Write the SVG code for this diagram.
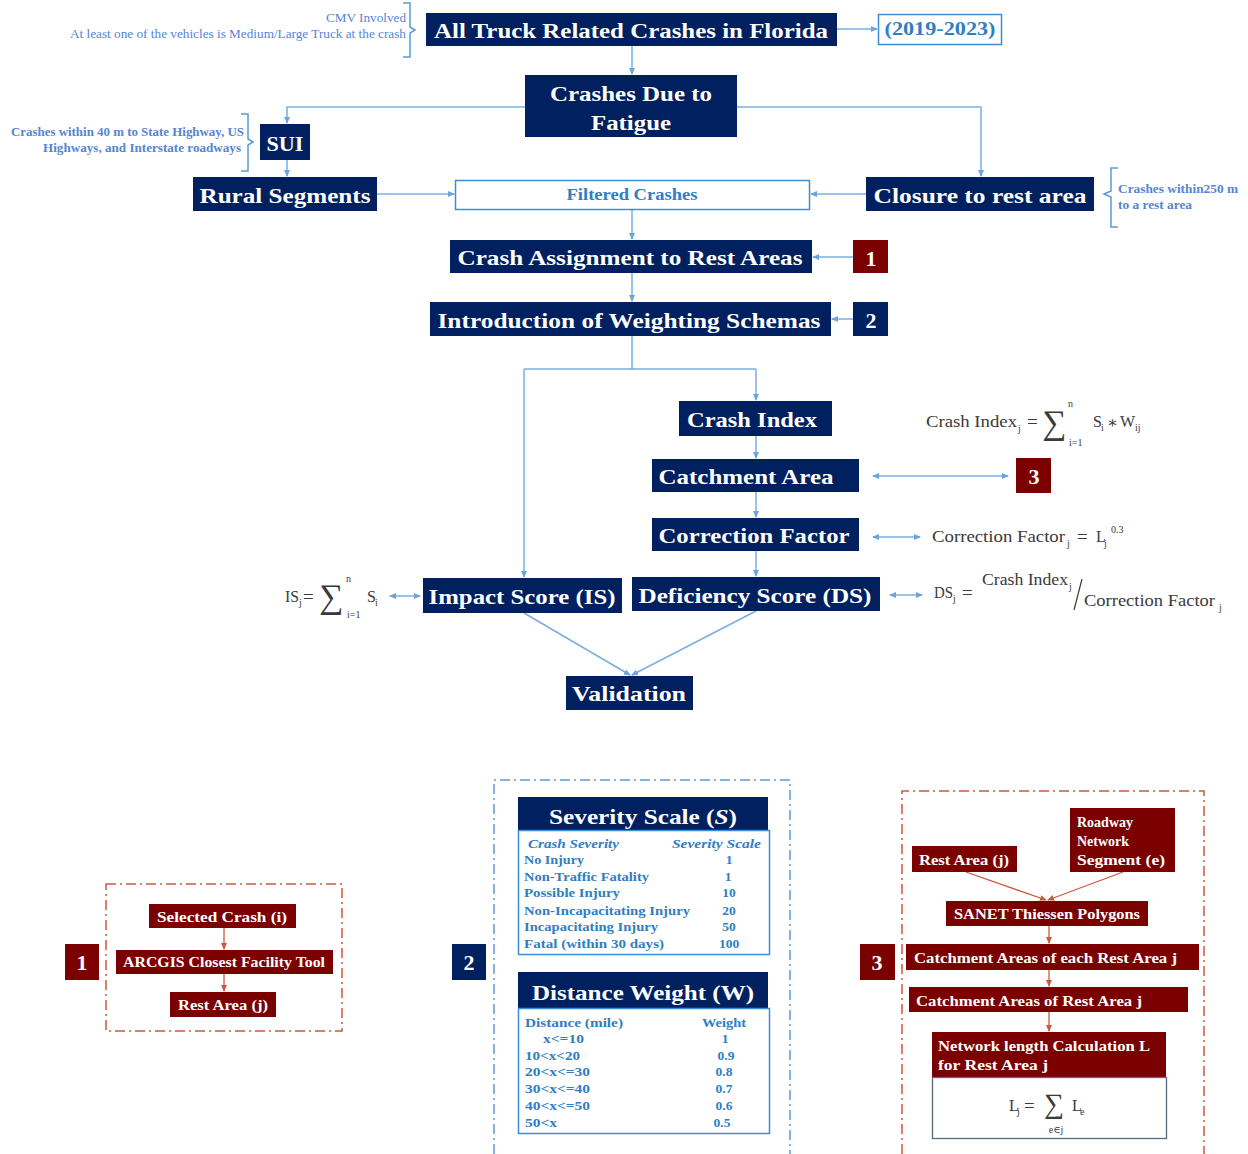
<svg xmlns="http://www.w3.org/2000/svg" width="1248" height="1154" viewBox="0 0 1248 1154">
<style>
.nv{fill:#002060}
.rd{fill:#7b0000}
.t{font-family:"Liberation Serif","DejaVu Serif",serif;font-weight:bold;fill:#fff}
.tc{text-anchor:middle}
.bl{font-family:"Liberation Serif","DejaVu Serif",serif;font-weight:bold;fill:#2f7ec3}
.an{font-family:"Liberation Serif","DejaVu Serif",serif;fill:#5585d4}
.fm{font-family:"Liberation Serif","DejaVu Serif",serif;fill:#3a3a3a;font-size:16px}
.fs{font-size:10px}
.c{fill:none;stroke:#7aaee0;stroke-width:1.5}
.cr{fill:none;stroke:#d0573e;stroke-width:1.3}
.br{fill:none;stroke:#5b9bd5;stroke-width:1.5}
.dr{fill:none;stroke:#d0573e;stroke-width:1.5;stroke-dasharray:10 4 2 4}
.db{fill:none;stroke:#5b9bd5;stroke-width:1.5;stroke-dasharray:10 4 2 4}
</style>
<defs>
<marker id="a" markerUnits="userSpaceOnUse" markerWidth="7" markerHeight="7" refX="6" refY="3.5" orient="auto-start-reverse"><path d="M0,0.5 L7,3.5 L0,6.5 z" fill="#6fa3dc"/></marker>
<marker id="ar" markerUnits="userSpaceOnUse" markerWidth="7" markerHeight="7" refX="6" refY="3.5" orient="auto"><path d="M0,0.5 L7,3.5 L0,6.5 z" fill="#d0573e"/></marker>
</defs>

<g id="connectors">
<path class="c" d="M837,29 H877" marker-end="url(#a)"/>
<path class="c" d="M632,46 V74" marker-end="url(#a)"/>
<path class="c" d="M525,107 H287 V123" marker-end="url(#a)"/>
<path class="c" d="M737,107 H981 V176" marker-end="url(#a)"/>
<path class="c" d="M287,160 V176" marker-end="url(#a)"/>
<path class="c" d="M377,194 H454" marker-end="url(#a)"/>
<path class="c" d="M866,194 H811" marker-end="url(#a)"/>
<path class="c" d="M632,209 V239" marker-end="url(#a)"/>
<path class="c" d="M853,257 H813" marker-end="url(#a)"/>
<path class="c" d="M632,273 V301" marker-end="url(#a)"/>
<path class="c" d="M853,319 H832" marker-end="url(#a)"/>
<path class="c" d="M632,336 V369 M524,369 H756"/>
<path class="c" d="M756,369 V400" marker-end="url(#a)"/>
<path class="c" d="M524,369 V577" marker-end="url(#a)"/>
<path class="c" d="M756,436 V458" marker-end="url(#a)"/>
<path class="c" d="M873,476 H1008" marker-start="url(#a)" marker-end="url(#a)"/>
<path class="c" d="M756,492 V517" marker-end="url(#a)"/>
<path class="c" d="M873,537 H920" marker-start="url(#a)" marker-end="url(#a)"/>
<path class="c" d="M756,551 V576" marker-end="url(#a)"/>
<path class="c" d="M890,595 H922" marker-start="url(#a)" marker-end="url(#a)"/>
<path class="c" d="M390,596 H420" marker-start="url(#a)" marker-end="url(#a)"/>
<path class="c" d="M524,613 L630,675" marker-end="url(#a)"/>
<path class="c" d="M756,611 L632,675" marker-end="url(#a)"/>
<path class="cr" d="M224,928 V949" marker-end="url(#ar)"/>
<path class="cr" d="M224,974 V991" marker-end="url(#ar)"/>
<path class="cr" d="M966,872 L1046,900" marker-end="url(#ar)"/>
<path class="cr" d="M1123,872 L1048,900" marker-end="url(#ar)"/>
<path class="cr" d="M1049,926 V943" marker-end="url(#ar)"/>
<path class="cr" d="M1049,970 V986" marker-end="url(#ar)"/>
<path class="cr" d="M1049,1012 V1031" marker-end="url(#ar)"/>
</g>

<g id="ann-cmv">
<path class="br" d="M403,3 H410 V27 L415,30 L410,33 V57 H403"/>
<text class="an" x="406" y="22" font-size="12" text-anchor="end" textLength="80" lengthAdjust="spacingAndGlyphs">CMV Involved</text>
<text class="an" x="406" y="38" font-size="12" text-anchor="end" textLength="336" lengthAdjust="spacingAndGlyphs">At least one of the vehicles is Medium/Large Truck at the crash</text>
</g>
<g id="ann-sui">
<path class="br" d="M241,114 H248 V139 L253,142 L248,145 V171 H241"/>
<text class="an" x="244" y="136" font-size="11.5" font-weight="bold" text-anchor="end" textLength="233" lengthAdjust="spacingAndGlyphs">Crashes within 40 m to State Highway, US</text>
<text class="an" x="241" y="152" font-size="11.5" font-weight="bold" text-anchor="end" textLength="198" lengthAdjust="spacingAndGlyphs">Highways, and Interstate roadways</text>
</g>
<g id="ann-rest">
<path class="br" d="M1118,168 H1111 V191 L1104,194 L1111,197 V227 H1118"/>
<text class="an" x="1118" y="193" font-size="11.5" font-weight="bold" textLength="120" lengthAdjust="spacingAndGlyphs">Crashes within250 m</text>
<text class="an" x="1118" y="209" font-size="11.5" font-weight="bold" textLength="74" lengthAdjust="spacingAndGlyphs">to a rest area</text>
</g>

<g id="n-all"><rect class="nv" x="426" y="13" width="411" height="33"/><text class="t tc" x="631" y="38" font-size="22" textLength="394" lengthAdjust="spacingAndGlyphs">All Truck Related Crashes in Florida</text></g>
<g id="n-years"><rect x="878.5" y="14.5" width="123" height="30" fill="#fff" stroke="#3a8dd6" stroke-width="1.5"/><text class="bl tc" x="940" y="35" font-size="18" fill="#2e7fcf" textLength="111" lengthAdjust="spacingAndGlyphs">(2019-2023)</text></g>
<g id="n-fatigue"><rect class="nv" x="525" y="75" width="212" height="62"/><text class="t tc" x="631" y="101" font-size="22" textLength="162" lengthAdjust="spacingAndGlyphs">Crashes Due to</text><text class="t tc" x="631" y="130" font-size="22" textLength="80" lengthAdjust="spacingAndGlyphs">Fatigue</text></g>
<g id="n-sui"><rect class="nv" x="260" y="124" width="50" height="36"/><text class="t tc" x="285" y="151" font-size="22" textLength="37" lengthAdjust="spacingAndGlyphs">SUI</text></g>
<g id="n-rural"><rect class="nv" x="193" y="177" width="184" height="34"/><text class="t tc" x="285" y="203" font-size="22" textLength="171" lengthAdjust="spacingAndGlyphs">Rural Segments</text></g>
<g id="n-filtered"><rect x="455.5" y="180.5" width="354" height="29" fill="#fff" stroke="#3a8dd6" stroke-width="1.5"/><text class="bl tc" x="632" y="200" font-size="16" fill="#2e7fcf" textLength="131" lengthAdjust="spacingAndGlyphs">Filtered Crashes</text></g>
<g id="n-closure"><rect class="nv" x="866" y="177" width="228" height="34"/><text class="t tc" x="980" y="203" font-size="22" textLength="213" lengthAdjust="spacingAndGlyphs">Closure to rest area</text></g>
<g id="n-assign"><rect class="nv" x="450" y="240" width="362" height="33"/><text class="t tc" x="630" y="265" font-size="22" textLength="345" lengthAdjust="spacingAndGlyphs">Crash Assignment to Rest Areas</text></g>
<g id="n-1"><rect class="rd" x="853" y="240" width="35" height="33"/><text class="t tc" x="871" y="266" font-size="22">1</text></g>
<g id="n-weight"><rect class="nv" x="430" y="302" width="401" height="34"/><text class="t tc" x="629" y="328" font-size="22" textLength="383" lengthAdjust="spacingAndGlyphs">Introduction of Weighting Schemas</text></g>
<g id="n-2"><rect class="nv" x="853" y="302" width="35" height="34"/><text class="t tc" x="871" y="328" font-size="22">2</text></g>
<g id="n-ci"><rect class="nv" x="679" y="401" width="153" height="35"/><text class="t tc" x="752" y="427" font-size="22" textLength="130" lengthAdjust="spacingAndGlyphs">Crash Index</text></g>
<g id="n-ca"><rect class="nv" x="652" y="459" width="207" height="33"/><text class="t tc" x="746" y="484" font-size="22" textLength="175" lengthAdjust="spacingAndGlyphs">Catchment Area</text></g>
<g id="n-3"><rect class="rd" x="1016" y="458" width="35" height="35"/><text class="t tc" x="1034" y="484" font-size="22">3</text></g>
<g id="n-cf"><rect class="nv" x="652" y="518" width="207" height="33"/><text class="t tc" x="754" y="543" font-size="22" textLength="191" lengthAdjust="spacingAndGlyphs">Correction Factor</text></g>
<g id="n-is"><rect class="nv" x="423" y="578" width="199" height="35"/><text class="t tc" x="522" y="604" font-size="22" textLength="187" lengthAdjust="spacingAndGlyphs">Impact Score (IS)</text></g>
<g id="n-ds"><rect class="nv" x="632" y="577" width="248" height="34"/><text class="t tc" x="755" y="603" font-size="22" textLength="233" lengthAdjust="spacingAndGlyphs">Deficiency Score (DS)</text></g>
<g id="n-val"><rect class="nv" x="566" y="676" width="127" height="34"/><text class="t tc" x="629" y="701" font-size="22" textLength="114" lengthAdjust="spacingAndGlyphs">Validation</text></g>

<g id="f-ci" class="fm">
<text x="926" y="427" textLength="91" lengthAdjust="spacingAndGlyphs">Crash Index</text>
<text class="fs" x="1018" y="432">j</text>
<text x="1027" y="428" font-size="19">=</text>
<text x="1042" y="434" font-size="34">∑</text>
<text class="fs" x="1068" y="407">n</text>
<text class="fs" x="1069" y="446">i=1</text>
<text x="1093" y="427">S</text><text class="fs" x="1101" y="431">i</text>
<text x="1107" y="428">∗</text>
<text x="1120" y="427">W</text><text class="fs" x="1135" y="431">ij</text>
</g>
<g id="f-cf" class="fm">
<text x="932" y="542" textLength="133" lengthAdjust="spacingAndGlyphs">Correction Factor</text>
<text class="fs" x="1067" y="547">j</text>
<text x="1077" y="543" font-size="19">=</text>
<text x="1096" y="542">L</text><text class="fs" x="1104" y="547">j</text>
<text class="fs" x="1111" y="533">0.3</text>
</g>
<g id="f-ds" class="fm">
<text x="934" y="598" textLength="19" lengthAdjust="spacingAndGlyphs">DS</text>
<text class="fs" x="953" y="602">j</text>
<text x="962" y="599" font-size="19">=</text>
<text x="982" y="585" textLength="86" lengthAdjust="spacingAndGlyphs">Crash Index</text>
<text class="fs" x="1069" y="590">j</text>
<path d="M1082,579 L1074,610" stroke="#3a3a3a" stroke-width="1.2" fill="none"/>
<text x="1084" y="606" textLength="131" lengthAdjust="spacingAndGlyphs">Correction Factor</text>
<text class="fs" x="1219" y="611">j</text>
</g>
<g id="f-is" class="fm">
<text x="285" y="602" textLength="14" lengthAdjust="spacingAndGlyphs">IS</text>
<text class="fs" x="299" y="606">j</text>
<text x="303" y="603" font-size="19">=</text>
<text x="319" y="608" font-size="34">∑</text>
<text class="fs" x="346" y="582">n</text>
<text class="fs" x="347" y="618">i=1</text>
<text x="367" y="602">S</text><text class="fs" x="375" y="606">i</text>
</g>

<g id="panel1">
<rect class="dr" x="106" y="884" width="236" height="147"/>
<rect class="rd" x="65" y="944" width="34" height="36"/><text class="t tc" x="82" y="970" font-size="22">1</text>
<rect class="rd" x="149" y="904" width="147" height="24"/><text class="t tc" x="222" y="922" font-size="14" textLength="130" lengthAdjust="spacingAndGlyphs">Selected Crash (i)</text>
<rect class="rd" x="116" y="950" width="217" height="24"/><text class="t tc" x="224" y="967" font-size="14" textLength="202" lengthAdjust="spacingAndGlyphs">ARCGIS Closest Facility Tool</text>
<rect class="rd" x="170" y="992" width="106" height="25"/><text class="t tc" x="223" y="1010" font-size="14" textLength="90" lengthAdjust="spacingAndGlyphs">Rest Area (j)</text>
</g>

<g id="panel2">
<path class="db" d="M494,1154 V780 H790 V1154"/>
<rect class="nv" x="452" y="944" width="34" height="36"/><text class="t tc" x="469" y="970" font-size="22">2</text>
<rect class="nv" x="518" y="797" width="250" height="33"/>
<text class="t tc" x="643" y="824" font-size="22" textLength="188" lengthAdjust="spacingAndGlyphs">Severity Scale (<tspan font-style="italic">S</tspan>)</text>
<rect x="518.5" y="830.5" width="251" height="124" fill="#fff" stroke="#3a8dd6" stroke-width="1.5"/>
<g class="bl" font-size="13.5">
<text x="528" y="848" font-style="italic" textLength="91" lengthAdjust="spacingAndGlyphs">Crash Severity</text>
<text x="672" y="848" font-style="italic" textLength="89" lengthAdjust="spacingAndGlyphs">Severity Scale</text>
<text x="524" y="864" textLength="60" lengthAdjust="spacingAndGlyphs">No Injury</text>
<text x="524" y="881" textLength="125" lengthAdjust="spacingAndGlyphs">Non-Traffic Fatality</text>
<text x="524" y="897" textLength="96" lengthAdjust="spacingAndGlyphs">Possible Injury</text>
<text x="524" y="915" textLength="166" lengthAdjust="spacingAndGlyphs">Non-Incapacitating Injury</text>
<text x="524" y="931" textLength="134" lengthAdjust="spacingAndGlyphs">Incapacitating Injury</text>
<text x="524" y="948" textLength="140" lengthAdjust="spacingAndGlyphs">Fatal (within 30 days)</text>
<g text-anchor="middle"><text x="729" y="864">1</text><text x="728" y="881">1</text><text x="729" y="897">10</text><text x="729" y="915">20</text><text x="729" y="931">50</text><text x="729" y="948">100</text></g>
</g>
<rect class="nv" x="518" y="972" width="250" height="36"/>
<text class="t tc" x="643" y="1000" font-size="22" textLength="222" lengthAdjust="spacingAndGlyphs">Distance Weight (W)</text>
<rect x="518.5" y="1008.5" width="251" height="125" fill="#fff" stroke="#3a8dd6" stroke-width="1.5"/>
<g class="bl" font-size="13.5">
<text x="525" y="1027" textLength="98" lengthAdjust="spacingAndGlyphs">Distance (mile)</text>
<text x="702" y="1027" textLength="44" lengthAdjust="spacingAndGlyphs">Weight</text>
<text x="543" y="1043" textLength="41" lengthAdjust="spacingAndGlyphs">x&lt;=10</text>
<text x="525" y="1060" textLength="55" lengthAdjust="spacingAndGlyphs">10&lt;x&lt;20</text>
<text x="525" y="1076" textLength="65" lengthAdjust="spacingAndGlyphs">20&lt;x&lt;=30</text>
<text x="525" y="1093" textLength="65" lengthAdjust="spacingAndGlyphs">30&lt;x&lt;=40</text>
<text x="525" y="1110" textLength="65" lengthAdjust="spacingAndGlyphs">40&lt;x&lt;=50</text>
<text x="525" y="1127" textLength="32" lengthAdjust="spacingAndGlyphs">50&lt;x</text>
<g text-anchor="middle"><text x="725" y="1043">1</text><text x="726" y="1060">0.9</text><text x="724" y="1076">0.8</text><text x="724" y="1093">0.7</text><text x="724" y="1110">0.6</text><text x="722" y="1127">0.5</text></g>
</g>
</g>

<g id="panel3">
<path class="dr" d="M902,1154 V791 H1204 V1154"/>
<rect class="rd" x="860" y="944" width="35" height="36"/><text class="t tc" x="877" y="970" font-size="22">3</text>
<rect class="rd" x="912" y="846" width="105" height="26"/><text class="t tc" x="964" y="865" font-size="14" textLength="90" lengthAdjust="spacingAndGlyphs">Rest Area (j)</text>
<rect class="rd" x="1070" y="808" width="105" height="64"/>
<text class="t" x="1077" y="827" font-size="14">Roadway</text>
<text class="t" x="1077" y="846" font-size="14">Network</text>
<text class="t" x="1077" y="865" font-size="14" textLength="88" lengthAdjust="spacingAndGlyphs">Segment (e)</text>
<rect class="rd" x="946" y="901" width="202" height="25"/><text class="t tc" x="1047" y="919" font-size="14" textLength="186" lengthAdjust="spacingAndGlyphs">SANET Thiessen Polygons</text>
<rect class="rd" x="906" y="944" width="293" height="26"/><text class="t" x="914" y="963" font-size="14" textLength="263" lengthAdjust="spacingAndGlyphs">Catchment Areas of each  Rest Area j</text>
<rect class="rd" x="909" y="987" width="279" height="25"/><text class="t" x="916" y="1006" font-size="14" textLength="226" lengthAdjust="spacingAndGlyphs">Catchment Areas of  Rest Area j</text>
<rect class="rd" x="932" y="1032" width="234" height="45"/>
<text class="t" x="938" y="1051" font-size="14" textLength="212" lengthAdjust="spacingAndGlyphs">Network length Calculation L</text>
<text class="t" x="938" y="1070" font-size="14" textLength="110" lengthAdjust="spacingAndGlyphs">for   Rest Area j</text>
<rect x="932.5" y="1077.5" width="234" height="61" fill="#fff" stroke="#5a6b7b" stroke-width="1.3"/>
<g class="fm">
<text x="1009" y="1111">L</text><text class="fs" x="1017" y="1115">j</text>
<text x="1024" y="1112" font-size="19">=</text>
<text x="1044" y="1113" font-size="28">∑</text>
<text x="1072" y="1111">L</text><text class="fs" x="1080" y="1115">e</text>
<text class="fs" x="1056" y="1133" text-anchor="middle">e∈j</text>
</g>
</g>
</svg>
